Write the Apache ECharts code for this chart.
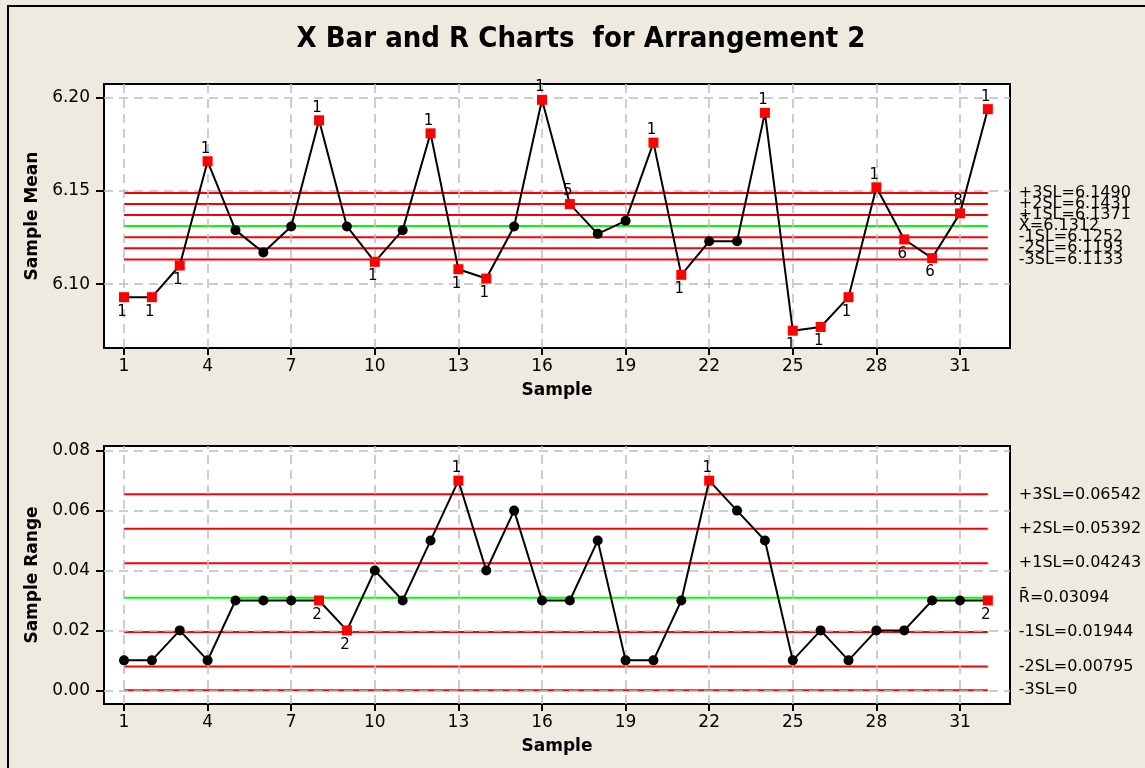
<!DOCTYPE html>
<html>
<head>
<meta charset="utf-8">
<script src="https://cdn.jsdelivr.net/npm/echarts@6/dist/echarts.min.js"></script>
<style>
  html, body { margin: 0; padding: 0; background: #EEEAE0; }
  #chart { width: 1145px; height: 768px; }
</style>
</head>
<body>
<div id="chart"></div>
<script>
// Subgroup numbers
const samples = [1, 2, 3, 4, 5, 6, 7, 8, 9, 10, 11, 12, 13, 14, 15, 16,
                 17, 18, 19, 20, 21, 22, 23, 24, 25, 26, 27, 28, 29, 30, 31, 32];

// X-bar chart: subgroup means and the failed-test number for each point ('' = none)
const sampleMeans = [6.093, 6.093, 6.110, 6.166, 6.129, 6.117, 6.131, 6.188,
                     6.131, 6.112, 6.129, 6.181, 6.108, 6.103, 6.131, 6.199,
                     6.143, 6.127, 6.134, 6.176, 6.105, 6.123, 6.123, 6.192,
                     6.075, 6.077, 6.093, 6.152, 6.124, 6.114, 6.138, 6.194];
const meanFlags = ['1', '1', '1', '1', '', '', '', '1',
                   '', '1', '', '1', '1', '1', '', '1',
                   '5', '', '', '1', '1', '', '', '1',
                   '1', '1', '1', '1', '6', '6', '8', '1'];
const meanCenter = 6.1312;
const meanLimitValues = [6.1490, 6.1431, 6.1371, 6.1312, 6.1252, 6.1193, 6.1133];
const meanLimitLabels = ['+3SL=6.1490', '+2SL=6.1431', '+1SL=6.1371', 'X\u0304=6.1312',
                         '-1SL=6.1252', '-2SL=6.1193', '-3SL=6.1133'];

// R chart: subgroup ranges and test flags
const sampleRanges = [0.01, 0.01, 0.02, 0.01, 0.03, 0.03, 0.03, 0.03,
                      0.02, 0.04, 0.03, 0.05, 0.07, 0.04, 0.06, 0.03,
                      0.03, 0.05, 0.01, 0.01, 0.03, 0.07, 0.06, 0.05,
                      0.01, 0.02, 0.01, 0.02, 0.02, 0.03, 0.03, 0.03];
const rangeFlags = ['', '', '', '', '', '', '', '2',
                    '2', '', '', '', '1', '', '', '',
                    '', '', '', '', '', '1', '', '',
                    '', '', '', '', '', '', '', '2'];
const rangeCenter = 0.03094;
const rangeLimitValues = [0.06542, 0.05392, 0.04243, 0.03094, 0.01944, 0.00795, 0];
const rangeLimitLabels = ['+3SL=0.06542', '+2SL=0.05392', '+1SL=0.04243', 'R\u0304=0.03094',
                          '-1SL=0.01944', '-2SL=0.00795', '-3SL=0'];

// Tick labels
const sampleTicks = [1, 4, 7, 10, 13, 16, 19, 22, 25, 28, 31];
const meanTicks = [6.10, 6.15, 6.20];
const rangeTicks = [0.00, 0.02, 0.04, 0.06, 0.08];

const FONT = 'DejaVu Sans';
const CENTER_INDEX = 3;

function xAxisFor(gridIndex) {
  return {
    type: 'value', gridIndex: gridIndex,
    min: 0.282, max: 32.795,
    name: 'Sample', nameLocation: 'middle', nameGap: 34,
    nameTextStyle: { fontFamily: FONT, fontWeight: 'bold', fontSize: 17, color: '#000' },
    axisLine: { show: true, onZero: false, lineStyle: { color: '#000', width: 2 } },
    axisTick: { show: true, length: 7, customValues: sampleTicks, lineStyle: { color: '#000', width: 2 } },
    axisLabel: { customValues: sampleTicks, margin: 10, fontFamily: FONT, fontSize: 17, color: '#000' },
    splitLine: { show: false }
  };
}

function yAxisFor(gridIndex, min, max, ticks, name) {
  return {
    type: 'value', gridIndex: gridIndex, min: min, max: max,
    name: name, nameLocation: 'middle', nameGap: 61, nameRotate: 90,
    nameTextStyle: { fontFamily: FONT, fontWeight: 'bold', fontSize: 17, color: '#000' },
    axisLine: { show: true, onZero: false, lineStyle: { color: '#000', width: 2 } },
    axisTick: { show: true, length: 8, customValues: ticks, lineStyle: { color: '#000', width: 2 } },
    axisLabel: { customValues: ticks, margin: 14, fontFamily: FONT, fontSize: 17, color: '#000',
                 formatter: v => v.toFixed(2) },
    splitLine: { show: false }
  };
}

// Dashed reference grid drawn at the tick positions
function gridSeries(idx, yTicks) {
  const lines = sampleTicks.map(t => ({ xAxis: t })).concat(yTicks.map(t => ({ yAxis: t })));
  return {
    type: 'line', xAxisIndex: idx, yAxisIndex: idx, data: [], silent: true,
    markLine: {
      silent: true, symbol: 'none', label: { show: false },
      lineStyle: { color: '#BDBDBD', type: [9, 6], width: 1.5 },
      emphasis: { disabled: true },
      data: lines
    }
  };
}

function limitSeries(idx, values, labels) {
  return values.map((v, i) => ({
    type: 'line', xAxisIndex: idx, yAxisIndex: idx, silent: true,
    symbol: 'none', z: 3,
    data: [[samples[0], v], [samples[samples.length - 1], v]],
    lineStyle: { color: i === CENTER_INDEX ? '#00FF00' : '#FF0000', width: 2 },
    endLabel: {
      show: true, formatter: labels[i], distance: 31,
      fontFamily: FONT, fontSize: 16, color: '#000'
    }
  }));
}

function dataSeries(idx, values, flags, center) {
  return {
    type: 'line', xAxisIndex: idx, yAxisIndex: idx, z: 5,
    lineStyle: { color: '#000', width: 2 },
    symbolSize: 10,
    data: values.map((v, i) => {
      const flagged = flags[i] !== '';
      return {
        value: [samples[i], v],
        symbol: flagged ? 'rect' : 'circle',
        itemStyle: { color: flagged ? '#FF0000' : '#000000' },
        label: {
          show: flagged, formatter: flags[i],
          position: v > center ? 'top' : 'bottom',
          distance: v > center ? 0 : 2, offset: [-2, 0],
          fontFamily: FONT, fontSize: 15, color: '#000'
        }
      };
    })
  };
}

const chart = echarts.init(document.getElementById('chart'), null, { renderer: 'canvas' });
chart.setOption({
  animation: false,
  backgroundColor: '#EEEAE0',
  title: {
    text: 'X Bar and R Charts  for Arrangement 2',
    left: 576, top: 20, textAlign: 'center',
    textStyle: { fontFamily: 'DejaVu Sans Condensed, DejaVu Sans', fontWeight: 'bold', fontSize: 29, color: '#000' }
  },
  graphic: [{
    type: 'rect', silent: true, z: -1,
    shape: { x: 8, y: 6, width: 1400, height: 1000 },
    style: { fill: 'none', stroke: '#000', lineWidth: 2 }
  }],
  grid: [
    { left: 104, right: 135, top: 84, height: 264, show: true, backgroundColor: '#FFFFFF', borderColor: '#000', borderWidth: 2 },
    { left: 104, right: 135, top: 446, height: 258, show: true, backgroundColor: '#FFFFFF', borderColor: '#000', borderWidth: 2 }
  ],
  xAxis: [xAxisFor(0), xAxisFor(1)],
  yAxis: [
    yAxisFor(0, 6.0657, 6.2075, meanTicks, 'Sample Mean'),
    yAxisFor(1, -0.00457, 0.08157, rangeTicks, 'Sample Range')
  ],
  series: [
    gridSeries(0, meanTicks),
    gridSeries(1, rangeTicks),
    ...limitSeries(0, meanLimitValues, meanLimitLabels),
    ...limitSeries(1, rangeLimitValues, rangeLimitLabels),
    dataSeries(0, sampleMeans, meanFlags, meanCenter),
    dataSeries(1, sampleRanges, rangeFlags, rangeCenter)
  ]
});
</script>
</body>
</html>
